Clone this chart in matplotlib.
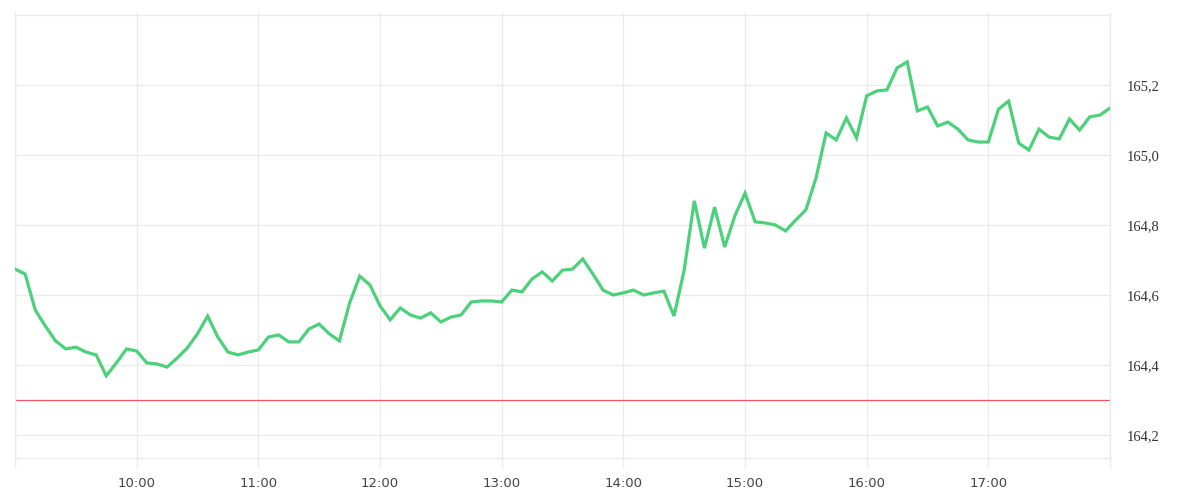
import matplotlib.pyplot as plt
import matplotlib.dates as mdates
import matplotlib.ticker as mticker
import pandas as pd

# intraday price, 5-minute steps from 09:00 to 18:00
prices = [
    164.674, 164.660, 164.557, 164.511, 164.469, 164.446, 164.451, 164.437, 164.429, 164.369,
    164.406, 164.446, 164.440, 164.406, 164.403, 164.394, 164.420, 164.449, 164.489, 164.540,
    164.480, 164.437, 164.429, 164.437, 164.443, 164.480, 164.486, 164.466, 164.466, 164.503,
    164.517, 164.489, 164.469, 164.577, 164.654, 164.629, 164.569, 164.529, 164.563, 164.543,
    164.534, 164.549, 164.523, 164.537, 164.543, 164.580, 164.583, 164.583, 164.580, 164.614,
    164.609, 164.646, 164.666, 164.640, 164.671, 164.674, 164.703, 164.660, 164.614, 164.600,
    164.606, 164.614, 164.600, 164.606, 164.611, 164.540, 164.671, 164.869, 164.734, 164.851,
    164.737, 164.826, 164.891, 164.809, 164.806, 164.800, 164.783, 164.814, 164.843, 164.934,
    165.063, 165.043, 165.106, 165.049, 165.169, 165.183, 165.186, 165.249, 165.266, 165.126,
    165.137, 165.083, 165.094, 165.074, 165.043, 165.037, 165.037, 165.131, 165.154, 165.034,
    165.014, 165.074, 165.051, 165.046, 165.103, 165.071, 165.109, 165.114, 165.134,
]
times = pd.date_range("2024-01-02 09:00", periods=len(prices), freq="5min")
prev_close = 164.3
y_ticks = [164.2, 164.4, 164.6, 164.8, 165.0, 165.2]

grid_col = "#ebebeb"

fig = plt.figure(figsize=(12, 5), dpi=100)
ax = fig.add_axes([15 / 1200, 42 / 500, 1095 / 1200, 443 / 500])

ax.plot(times, prices, color="#4cd17b", linewidth=2.3, solid_joinstyle="miter", zorder=3)
ax.axhline(prev_close, color="#f2545e", linewidth=0.9, zorder=2)

ax.set_xlim(pd.Timestamp("2024-01-02 09:00"), pd.Timestamp("2024-01-02 18:00"))
ax.set_ylim(164.2 - 23 / 350, 165.4)

ax.xaxis.set_major_locator(mdates.HourLocator())
# first and last hour sit on the axis edges and carry no label
ax.xaxis.set_major_formatter(mticker.FuncFormatter(
    lambda v, p: "" if mdates.num2date(v).hour in (9, 18) else mdates.num2date(v).strftime("%H:%M")))
ax.set_yticks(y_ticks)
ax.yaxis.set_major_formatter(mticker.FuncFormatter(lambda v, p: f"{v:.1f}".replace(".", ",")))
ax.yaxis.tick_right()

ax.grid(True, color=grid_col, linewidth=1, zorder=0)
for s in ax.spines.values():
    s.set_color(grid_col)
    s.set_linewidth(1)

ax.tick_params(axis="x", length=6.5, width=1, color=grid_col, pad=7,
               labelsize=9.5, labelcolor="#444444", top=True, labeltop=False)
ax.tick_params(axis="y", length=0, pad=12, labelsize=10.5, labelcolor="#333333")
for lab in ax.get_yticklabels():
    lab.set_family("Liberation Serif")
for t in ax.xaxis.get_major_ticks():
    t.tick2line.set_markersize(2.2)

fig.savefig("out.png", dpi=100, facecolor="white")
